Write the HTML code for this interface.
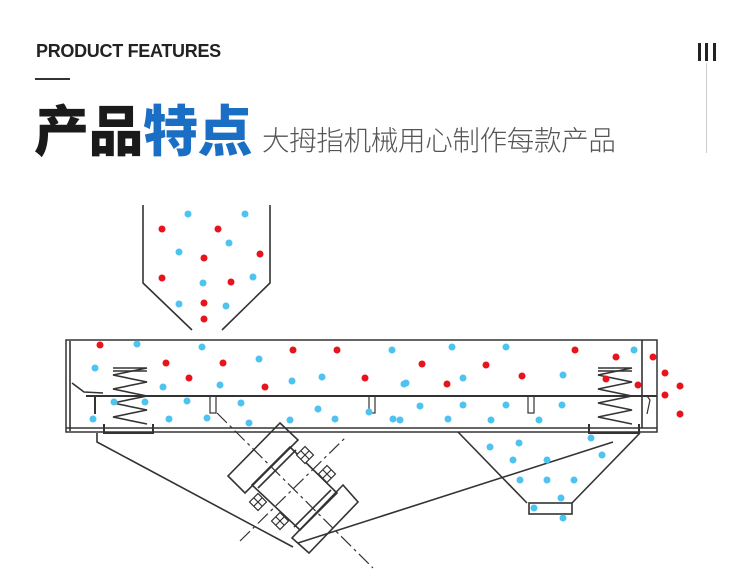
<!DOCTYPE html>
<html><head><meta charset="utf-8"><style>
html,body{margin:0;padding:0;background:#fff;}
body{width:750px;height:580px;position:relative;overflow:hidden;font-family:"Liberation Sans","Noto Sans CJK SC",sans-serif;}
.pf{position:absolute;left:36px;top:41px;font-size:18px;font-weight:bold;color:#222;letter-spacing:-0.3px;}
.ln{position:absolute;left:35px;top:78px;width:35px;height:2px;background:#333;}
.t1{position:absolute;left:34px;top:92px;font-size:55px;font-weight:900;color:#1a1a1a;font-family:"Noto Sans CJK SC",sans-serif;line-height:70px;letter-spacing:-0.5px;}
.t1 b{color:#1a6fc4;font-weight:900;}
.t2{position:absolute;left:262px;top:120px;font-size:27.5px;font-weight:300;color:#555;font-family:"Noto Sans CJK SC",sans-serif;line-height:36px;letter-spacing:-0.3px;}
.bar{position:absolute;top:43px;width:3px;height:18px;background:#222;}
.vl{position:absolute;left:706px;top:63px;width:1px;height:90px;background:#ccc;}
svg{position:absolute;left:0;top:0;}
</style></head><body>
<div class="pf">PRODUCT FEATURES</div>
<div class="ln"></div>
<div class="t1">产品<b>特点</b></div>
<div class="t2">大拇指机械用心制作每款产品</div>
<div class="bar" style="left:698px"></div><div class="bar" style="left:705px"></div><div class="bar" style="left:713px"></div>
<div class="vl"></div>
<svg width="750" height="580" viewBox="0 0 750 580">
<g fill="none" stroke="#333" stroke-width="1.6">
<polyline points="143,205 143,283 192,330"/>
<polyline points="270,205 270,283 222,330"/>
<rect x="66" y="340" width="591" height="92" stroke-width="1.5"/>
<line x1="70" y1="341" x2="70" y2="431"/>
<line x1="66" y1="428" x2="657" y2="428"/>
<line x1="642" y1="340" x2="642" y2="428"/>
<line x1="86" y1="396" x2="657" y2="396" stroke-width="2"/>
<polyline points="72,383 84,392 103,393" />
<line x1="95" y1="396" x2="95" y2="414" stroke-width="2"/>
<polyline points="647,396 650,400 647,414" stroke-width="1.2"/>
<rect x="210" y="396" width="6" height="17" stroke-width="1.2"/>
<rect x="369" y="396" width="6" height="17" stroke-width="1.2"/>
<rect x="528" y="396" width="6" height="17" stroke-width="1.2"/>
<polyline points="104,424 104,433 153,433 153,424" stroke-width="2"/>
<polyline points="589,424 589,433 639,433 639,424" stroke-width="2"/>
<polyline points="458,432 527,503"/>
<polyline points="640,433 572,503"/>
<rect x="529" y="503" width="43" height="11"/>
<polyline points="97,433 97,442 293,547"/>
<line x1="298" y1="543" x2="613" y2="442"/>
<polygon points="280,423 298,440 245,493 228,476"/>
<polygon points="343,485 358,502 309,553 292,538"/>
<polygon points="290,447 337,493 300,530 252,485"/>
<line x1="296" y1="450" x2="258" y2="488"/>
<line x1="331" y1="490" x2="294" y2="527"/>
</g>
<g fill="none" stroke="#333" stroke-width="1.2" stroke-dasharray="14,4,3,4">
<line x1="217" y1="413" x2="373" y2="568"/>
<line x1="240" y1="541" x2="346" y2="437"/>
</g>
<g stroke="#333" stroke-width="1.2" fill="#fff">
<g transform="translate(305,455) rotate(45)"><rect x="-6" y="-6" width="12" height="12"/><line x1="-6" y1="0" x2="6" y2="0"/><line x1="0" y1="-6" x2="0" y2="6"/></g>
<g transform="translate(327,474) rotate(45)"><rect x="-6" y="-6" width="12" height="12"/><line x1="-6" y1="0" x2="6" y2="0"/><line x1="0" y1="-6" x2="0" y2="6"/></g>
<g transform="translate(258,502) rotate(45)"><rect x="-6" y="-6" width="12" height="12"/><line x1="-6" y1="0" x2="6" y2="0"/><line x1="0" y1="-6" x2="0" y2="6"/></g>
<g transform="translate(280,521) rotate(45)"><rect x="-6" y="-6" width="12" height="12"/><line x1="-6" y1="0" x2="6" y2="0"/><line x1="0" y1="-6" x2="0" y2="6"/></g>
</g>
<g fill="none" stroke="#333" stroke-width="1.6">
<polyline points="113,368 147,368 113,375 147,382 113,389 147,396 113,403 147,410 113,417 147,424"/>
<line x1="113" y1="371" x2="147" y2="371"/>
<polyline points="598,368 632,368 598,375 632,382 598,389 632,396 598,403 632,410 598,417 632,424"/>
<line x1="598" y1="371" x2="632" y2="371"/>
</g>
<g fill="#4ec3f2">
<circle cx="188" cy="214" r="3.5"/><circle cx="245" cy="214" r="3.5"/><circle cx="229" cy="243" r="3.5"/><circle cx="179" cy="252" r="3.5"/><circle cx="203" cy="283" r="3.5"/><circle cx="253" cy="277" r="3.5"/><circle cx="179" cy="304" r="3.5"/><circle cx="226" cy="306" r="3.5"/>
<circle cx="137" cy="344" r="3.5"/><circle cx="202" cy="347" r="3.5"/><circle cx="95" cy="368" r="3.5"/><circle cx="259" cy="359" r="3.5"/><circle cx="163" cy="387" r="3.5"/><circle cx="220" cy="385" r="3.5"/><circle cx="292" cy="381" r="3.5"/><circle cx="322" cy="377" r="3.5"/><circle cx="392" cy="350" r="3.5"/><circle cx="114" cy="402" r="3.5"/><circle cx="145" cy="402" r="3.5"/><circle cx="187" cy="401" r="3.5"/><circle cx="241" cy="403" r="3.5"/><circle cx="93" cy="419" r="3.5"/><circle cx="169" cy="419" r="3.5"/><circle cx="207" cy="418" r="3.5"/><circle cx="290" cy="420" r="3.5"/><circle cx="249" cy="423" r="3.5"/><circle cx="318" cy="409" r="3.5"/><circle cx="335" cy="419" r="3.5"/><circle cx="369" cy="412" r="3.5"/><circle cx="393" cy="419" r="3.5"/><circle cx="406" cy="383" r="3.5"/>
<circle cx="452" cy="347" r="3.5"/><circle cx="506" cy="347" r="3.5"/><circle cx="404" cy="384" r="3.5"/><circle cx="463" cy="378" r="3.5"/><circle cx="563" cy="375" r="3.5"/><circle cx="634" cy="350" r="3.5"/><circle cx="420" cy="406" r="3.5"/><circle cx="463" cy="405" r="3.5"/><circle cx="506" cy="405" r="3.5"/><circle cx="562" cy="405" r="3.5"/><circle cx="400" cy="420" r="3.5"/><circle cx="448" cy="419" r="3.5"/><circle cx="491" cy="420" r="3.5"/><circle cx="539" cy="420" r="3.5"/><circle cx="591" cy="438" r="3.5"/><circle cx="490" cy="447" r="3.5"/><circle cx="519" cy="443" r="3.5"/><circle cx="513" cy="460" r="3.5"/><circle cx="547" cy="460" r="3.5"/><circle cx="602" cy="455" r="3.5"/><circle cx="520" cy="480" r="3.5"/><circle cx="547" cy="480" r="3.5"/><circle cx="574" cy="480" r="3.5"/><circle cx="561" cy="498" r="3.5"/><circle cx="534" cy="508" r="3.5"/><circle cx="563" cy="518" r="3.5"/>
</g>
<g fill="#e8141c">
<circle cx="162" cy="229" r="3.5"/><circle cx="218" cy="229" r="3.5"/><circle cx="204" cy="258" r="3.5"/><circle cx="260" cy="254" r="3.5"/><circle cx="162" cy="278" r="3.5"/><circle cx="231" cy="282" r="3.5"/><circle cx="204" cy="303" r="3.5"/><circle cx="204" cy="319" r="3.5"/>
<circle cx="100" cy="345" r="3.5"/><circle cx="166" cy="363" r="3.5"/><circle cx="223" cy="363" r="3.5"/><circle cx="189" cy="378" r="3.5"/><circle cx="293" cy="350" r="3.5"/><circle cx="265" cy="387" r="3.5"/><circle cx="337" cy="350" r="3.5"/><circle cx="365" cy="378" r="3.5"/>
<circle cx="422" cy="364" r="3.5"/><circle cx="486" cy="365" r="3.5"/><circle cx="447" cy="384" r="3.5"/><circle cx="522" cy="376" r="3.5"/><circle cx="575" cy="350" r="3.5"/><circle cx="616" cy="357" r="3.5"/><circle cx="653" cy="357" r="3.5"/><circle cx="606" cy="379" r="3.5"/><circle cx="638" cy="385" r="3.5"/><circle cx="665" cy="373" r="3.5"/><circle cx="680" cy="386" r="3.5"/><circle cx="665" cy="395" r="3.5"/><circle cx="680" cy="414" r="3.5"/>
</g>
</svg>
</body></html>
